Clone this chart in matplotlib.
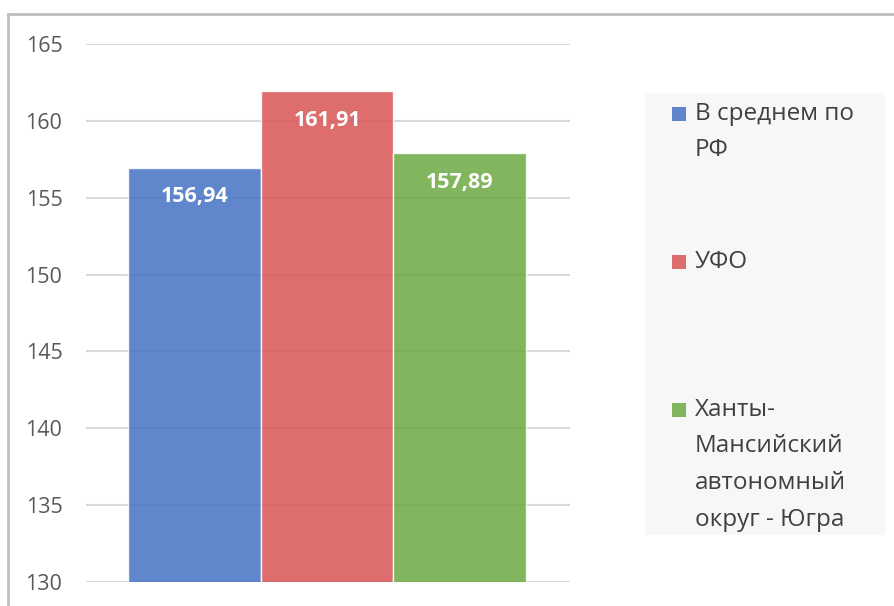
import matplotlib
matplotlib.use("Agg")
import matplotlib.pyplot as plt
from matplotlib.patches import Rectangle
from matplotlib.lines import Line2D

categories = ["В среднем по\nРФ", "УФО", "Ханты-\nМансийский\nавтономный\nокруг - Югра"]
values = [156.94, 161.91, 157.89]
value_labels = ["156,94", "161,91", "157,89"]
colors = ["#4472C4", "#D95454", "#6BA942"]
yticks = [130, 135, 140, 145, 150, 155, 160, 165]

W, H = 895, 606
plt.rcParams['font.family'] = ['Open Sans', 'DejaVu Sans']
fig = plt.figure(figsize=(W / 100, H / 100), dpi=100)

def fx(px):
    return px / W

def fy(py):
    return 1 - py / H

# chart border
fig.add_artist(Line2D([fx(8), 1.0], [fy(14), fy(14)], color="#bfbfbf", lw=2))
fig.add_artist(Line2D([fx(8), fx(8)], [fy(14), 0.0], color="#bfbfbf", lw=2))

ax = fig.add_axes([fx(86), fy(582), fx(570) - fx(86), fy(44) - fy(582)])
x = list(range(len(values)))
ax.bar(x, values, width=1.0, color=colors, alpha=0.85, edgecolor="#ffffff", linewidth=1, zorder=3)
ax.set_ylim(130, 165)
ax.set_xlim(-0.8165, 2.83)
ax.set_yticks(yticks)
ax.set_yticklabels([str(t) for t in yticks], fontsize=15.5, color="#595959")
ax.tick_params(axis="y", length=0, pad=17)
ax.set_xticks([])
for s in ax.spines.values():
    s.set_visible(False)
ax.yaxis.grid(True, color="#d9d9d9", linewidth=1.5, zorder=0)
ax.axhline(130, color="#bfbfbf", linewidth=1.5, zorder=1)
ax.set_facecolor("none")

for xi, v, lab in zip(x, values, value_labels):
    ax.annotate(lab, (xi, v), xytext=(0, -29), textcoords="offset pixels",
                ha="center", va="center", color="white", fontsize=15.5, fontweight="bold", zorder=5)

# legend
fig.add_artist(Rectangle((fx(645), fy(535)), fx(885) - fx(645), fy(93) - fy(535),
                         facecolor="#f7f7f7", edgecolor="none"))
first_line_y = [114, 262, 410]
pitch = 36.5
for cat, col, y0 in zip(categories, colors, first_line_y):
    fig.add_artist(Rectangle((fx(672), fy(y0 + 7)), fx(14), 14 / H,
                             facecolor=col, alpha=0.85, edgecolor="none"))
    for i, line in enumerate(cat.split("\n")):
        fig.text(fx(695), fy(y0 + i * pitch), line, fontsize=17.5, color="#404040",
                 ha="left", va="center")

fig.savefig("out.png", dpi=100)
